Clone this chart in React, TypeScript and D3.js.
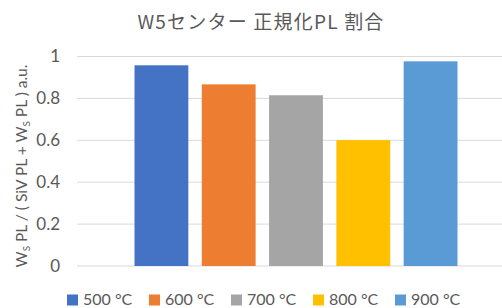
import * as d3 from "d3";

const series = ["500 °C", "600 °C", "700 °C", "800 °C", "900 °C"];
const values = [0.958, 0.867, 0.815, 0.601, 0.977];
const colors = ["#4472C4", "#ED7D31", "#A5A5A5", "#FFC000", "#5B9BD5"];
const yTicks = [0, 0.2, 0.4, 0.6, 0.8, 1];
const title = "W5センター 正規化PL 割合";

const W = 502;
const H = 308;
const plot = { left: 77, right: 515, top: 56.5, bottom: 266 };
const font = "Lato, 'Noto Sans', sans-serif";
const textColor = "#595959";

export default function App() {
  const y = d3.scaleLinear().domain([0, 1]).range([plot.bottom, plot.top]);
  const x = d3
    .scaleBand<string>()
    .domain(series)
    .range([134.5, 457.5])
    .paddingInner(0.2)
    .paddingOuter(0);

  const legendX = d3.scalePoint<string>().domain(series).range([67, 395]);

  return (
    <svg
      width={W}
      height={H}
      style={{ position: "absolute", left: 0, top: 0, background: "#fff" }}
    >
      <text
        x={261}
        y={29}
        textAnchor="middle"
        fontFamily="'Noto Sans CJK JP', sans-serif"
        fontSize={19}
        letterSpacing={1.2}
        fill={textColor}
      >
        {title}
      </text>

      <g>
        {yTicks.map((t) => (
          <g key={t}>
            <line
              x1={plot.left}
              x2={plot.right}
              y1={y(t)}
              y2={y(t)}
              stroke="#D9D9D9"
              strokeWidth={1}
            />
            <text
              x={60}
              y={y(t)}
              dy="0.35em"
              textAnchor="end"
              fontFamily={font}
              fontSize={17}
              fill={textColor}
            >
              {d3.format("~g")(t)}
            </text>
          </g>
        ))}
      </g>

      <g>
        {series.map((s, i) => (
          <rect
            key={s}
            x={x(s)}
            y={y(values[i])}
            width={x.bandwidth()}
            height={y(0) - y(values[i])}
            fill={colors[i]}
          />
        ))}
      </g>

      <text
        transform={`translate(27, 166) rotate(-90)`}
        textAnchor="middle"
        fontFamily={font}
        fontSize={15.5}
        fill={textColor}
      >
        W<tspan fontSize={10} dy={3}>S</tspan>
        <tspan dy={-3}> PL / ( SiV PL + W</tspan>
        <tspan fontSize={10} dy={3}>S</tspan>
        <tspan dy={-3}> PL ) a.u.</tspan>
      </text>

      <g>
        {series.map((s, i) => (
          <g key={s} transform={`translate(${legendX(s)}, 300)`}>
            <rect x={0} y={-5.5} width={11} height={11} fill={colors[i]} />
            <text
              x={16}
              y={5}
              fontFamily={font}
              fontSize={16}
              fill={textColor}
            >
              {s}
            </text>
          </g>
        ))}
      </g>
    </svg>
  );
}
